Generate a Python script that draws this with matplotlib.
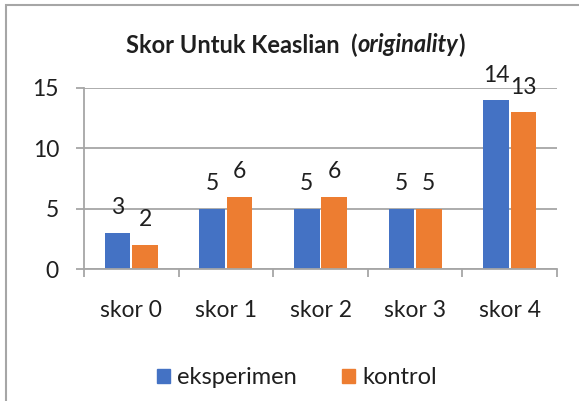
import numpy as np
import matplotlib.pyplot as plt
from matplotlib.patches import Rectangle, Patch

plt.rcParams['font.family'] = ['Lato', 'DejaVu Sans']

# data
categories = ["skor 0", "skor 1", "skor 2", "skor 3", "skor 4"]
eksperimen = [3, 5, 5, 5, 14]
kontrol = [2, 6, 6, 5, 13]
series_names = ["eksperimen", "kontrol"]
colors = ["#4472C4", "#ED7D31"]
grid_c = "#A6A6A6"
txt_c = "#1F1F1F"

fig = plt.figure(figsize=(5.79, 4.01), dpi=100)
ax = fig.add_axes([84 / 579, 1 - 269 / 401, (557 - 84) / 579, (269 - 88) / 401])

x = np.arange(len(categories))
w = 0.27
b1 = ax.bar(x - 0.145, eksperimen, w, color=colors[0], label=series_names[0])
b2 = ax.bar(x + 0.145, kontrol, w, color=colors[1], label=series_names[1])

for bars in (b1, b2):
    for r in bars:
        ax.annotate(f"{int(r.get_height())}", (r.get_x() + r.get_width() / 2, r.get_height()),
                    xytext=(0, 18), textcoords="offset points", ha="center", va="center",
                    fontsize=16.5, color=txt_c)

ax.set_xlim(-0.5, len(categories) - 0.5)
ax.set_ylim(0, 15)
ax.set_yticks([0, 5, 10, 15])
ax.yaxis.grid(True, color=grid_c, linewidth=1.3)
ax.set_axisbelow(True)

# excel style: ticks between categories, labels at centres
ax.set_xticks(np.arange(len(categories) + 1) - 0.5)
ax.set_xticklabels([])
ax.set_xticks(x, minor=True)
ax.set_xticklabels(categories, minor=True)
ax.tick_params(axis="x", which="major", direction="out", length=6, width=1.3, color=grid_c)
ax.tick_params(axis="x", which="minor", length=0, pad=22, labelsize=16.5, labelcolor=txt_c)
ax.tick_params(axis="y", direction="out", length=6, width=1.3, color=grid_c,
               pad=12, labelsize=16.5, labelcolor=txt_c)

for s in ("top", "right"):
    ax.spines[s].set_visible(False)
for s in ("left", "bottom"):
    ax.spines[s].set_color(grid_c)
    ax.spines[s].set_linewidth(1.3)

# title with italic part
fig.canvas.draw()
r = fig.canvas.get_renderer()
parts = [("Skor Untuk Keaslian  (", "normal"), ("originality", "italic"), (")", "normal")]
texts = [fig.text(0, 1 - 45 / 401, p, fontsize=17, fontweight="bold", style=st,
                  color=txt_c, va="center") for p, st in parts]
widths = [t.get_window_extent(r).width for t in texts]
xpos = 295 - sum(widths) / 2
for t, wd in zip(texts, widths):
    t.set_x(xpos / 579)
    xpos += wd

handles = [Patch(color=c, label=n) for c, n in zip(colors, series_names)]
fig.legend(handles=handles, loc="center", bbox_to_anchor=(297 / 579, 1 - 378 / 401), ncol=2,
           frameon=False, fontsize=17, handlelength=0.55, handleheight=0.55,
           handletextpad=0.3, columnspacing=1.9, labelcolor=txt_c)

# chart border (cut off right/bottom like the screenshot)
fig.patches.append(Rectangle((6 / 579, -0.5), 2, 0.5 + 1 - 5 / 401, transform=fig.transFigure,
                             fill=False, edgecolor="#A6A6A6", linewidth=1.5))

fig.savefig("out.png", dpi=100)
